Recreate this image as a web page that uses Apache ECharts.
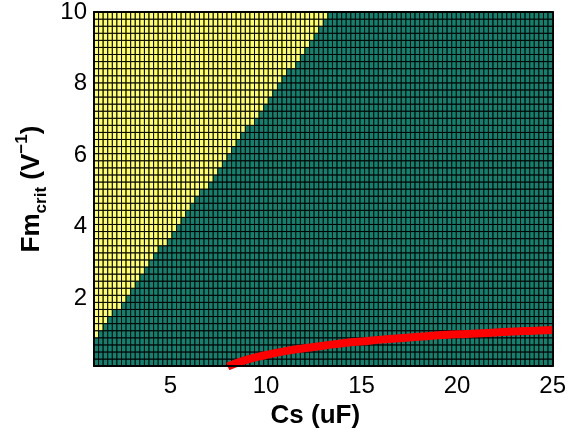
<!DOCTYPE html>
<html>
<head>
<meta charset="utf-8">
<script src="https://cdn.jsdelivr.net/npm/echarts@6/dist/echarts.min.js"></script>
<style>
  html, body { margin: 0; padding: 0; background: #ffffff; }
  #chart { width: 569px; height: 434px; }
</style>
</head>
<body>
<div id="chart"></div>
<script>
// Mesh extent and resolution
const csRange = [1, 25];
const fmRange = [0.1, 10];
const csCellCount = 100;
const fmCellCount = 50;

// Number of yellow (unstable) cells in each mesh row, bottom row first
const unstableCells = [
  0, 0, 0, 0, 1, 2, 3, 4, 6, 7,
  8, 9, 10, 11, 12, 13, 14, 16, 17, 18,
  19, 20, 21, 22, 23, 25, 26, 27, 28, 29,
  30, 31, 32, 33, 35, 36, 37, 38, 39, 40,
  41, 42, 44, 45, 46, 47, 48, 49, 50, 51
];

// Tick labels
const csTicks = [5, 10, 15, 20, 25];
const fmTicks = [2, 4, 6, 8, 10];

// Critical Fm curve
const curveCs = [8.0, 9, 10, 11, 12, 13, 14, 15, 16, 17, 18, 19, 20, 21, 22, 23, 24, 25];
const curveFm = [0.09, 0.28, 0.41, 0.52, 0.60, 0.67, 0.74, 0.79, 0.84, 0.88, 0.92, 0.96, 0.99, 1.01, 1.04, 1.07, 1.09, 1.11];

const yellow = '#FFFF66';
const teal = '#0F8270';
const fontFamily = '"Liberation Sans", Arial, Helvetica, sans-serif';

// Build mesh cells: [csStart, csEnd, fmStart, fmEnd, isUnstable]
const dCs = (csRange[1] - csRange[0]) / csCellCount;
const dFm = (fmRange[1] - fmRange[0]) / fmCellCount;
const cells = [];
for (let r = 0; r < fmCellCount; r++) {
  for (let c = 0; c < csCellCount; c++) {
    cells.push([
      csRange[0] + c * dCs, csRange[0] + (c + 1) * dCs,
      fmRange[0] + r * dFm, fmRange[0] + (r + 1) * dFm,
      c < unstableCells[r] ? 1 : 0
    ]);
  }
}
const curve = curveCs.map((x, i) => [x, curveFm[i]]);

const chart = echarts.init(document.getElementById('chart'), null, { renderer: 'canvas' });

const frameLine = { show: true, onZero: false, lineStyle: { color: '#000', width: 2 } };

chart.setOption({
  animation: false,
  backgroundColor: '#ffffff',
  textStyle: { fontFamily: fontFamily },
  grid: { left: 94, right: 16, top: 10, bottom: 64, containLabel: false },
  xAxis: [
    {
      type: 'value', min: csRange[0], max: csRange[1], position: 'bottom', z: 10,
      axisLine: frameLine,
      axisTick: { show: false },
      splitLine: { show: false },
      axisLabel: { customValues: csTicks, color: '#000', fontSize: 24, margin: 8, fontFamily: fontFamily },
      name: 'Cs (uF)', nameLocation: 'middle', nameGap: 30,
      nameTextStyle: { color: '#000', fontSize: 26, fontWeight: 'bold', fontFamily: fontFamily, padding: [0, 16, 0, 0] }
    },
    {
      type: 'value', min: csRange[0], max: csRange[1], position: 'top', z: 10,
      axisLine: frameLine, axisTick: { show: false }, axisLabel: { show: false }, splitLine: { show: false }
    }
  ],
  yAxis: [
    {
      type: 'value', min: fmRange[0], max: fmRange[1], position: 'left', z: 10,
      axisLine: frameLine,
      axisTick: { show: false },
      splitLine: { show: false },
      axisLabel: { customValues: fmTicks, color: '#000', fontSize: 24, margin: 7, fontFamily: fontFamily },
      name: '{b|Fm}{s|crit}{b| (V}{p|\u22121}{b|)}',
      nameLocation: 'middle', nameGap: 44, nameRotate: 90,
      nameTextStyle: {
        color: '#000', fontFamily: fontFamily,
        rich: {
          b: { fontSize: 26, fontWeight: 'bold', lineHeight: 36, verticalAlign: 'middle', color: '#000', fontFamily: fontFamily },
          s: { fontSize: 17, fontWeight: 'bold', lineHeight: 17, verticalAlign: 'bottom', color: '#000', fontFamily: fontFamily },
          p: { fontSize: 17, fontWeight: 'bold', lineHeight: 17, verticalAlign: 'top', color: '#000', fontFamily: fontFamily }
        }
      }
    },
    {
      type: 'value', min: fmRange[0], max: fmRange[1], position: 'right', z: 10,
      axisLine: frameLine, axisTick: { show: false }, axisLabel: { show: false }, splitLine: { show: false }
    }
  ],
  series: [
    {
      type: 'custom',
      silent: true,
      clip: true,
      data: cells,
      encode: { x: [0, 1], y: [2, 3] },
      renderItem: function (params, api) {
        const p0 = api.coord([api.value(0), api.value(2)]);
        const p1 = api.coord([api.value(1), api.value(3)]);
        return {
          type: 'rect',
          shape: { x: p0[0], y: p1[1], width: p1[0] - p0[0], height: p0[1] - p1[1] },
          style: { fill: api.value(4) ? yellow : teal, stroke: '#000', lineWidth: 1 }
        };
      }
    },
    {
      type: 'line',
      data: curve,
      clip: true,
      smooth: true,
      showSymbol: false,
      silent: true,
      z: 5,
      lineStyle: { color: '#FF0000', width: 8, cap: 'butt' }
    }
  ]
});
</script>
</body>
</html>
